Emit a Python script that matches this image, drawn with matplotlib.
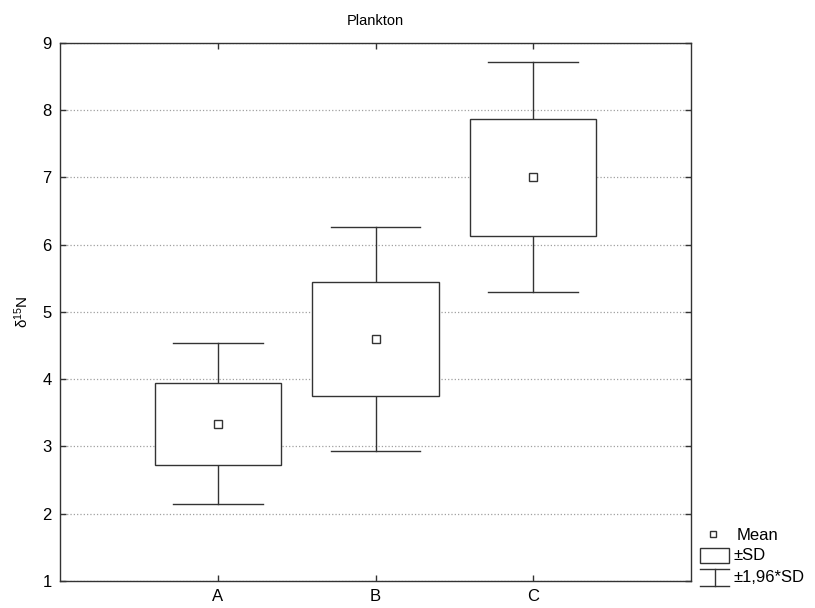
import matplotlib
matplotlib.use('Agg')
import matplotlib.pyplot as plt
from matplotlib.lines import Line2D
from matplotlib.patches import Rectangle
import numpy as np

# Plankton d15N: mean and standard deviation per group
groups = ['A', 'B', 'C']
means = [3.34, 4.60, 7.00]
sds = [0.61, 0.85, 0.873]
ci_factor = 1.96

plt.rcParams['font.family'] = ['Liberation Sans', 'DejaVu Sans']
plt.rcParams['mathtext.default'] = 'regular'

fig = plt.figure(figsize=(8.15, 6.08), dpi=100)
ax = fig.add_axes([60 / 815, 1 - 581 / 608, 631 / 815, 538.3 / 608])

edge = '#333333'
x = np.arange(1, len(groups) + 1)
means = np.array(means)
sds = np.array(sds)

# whiskers (±1.96*SD)
for xi, m, s in zip(x, means, sds):
    lo, hi = m - ci_factor * s, m + ci_factor * s
    ax.plot([xi, xi], [lo, m - s], color=edge, lw=1, zorder=2)
    ax.plot([xi, xi], [m + s, hi], color=edge, lw=1, zorder=2)
    ax.plot([xi - 0.285, xi + 0.285], [lo, lo], color=edge, lw=1, zorder=2)
    ax.plot([xi - 0.285, xi + 0.285], [hi, hi], color=edge, lw=1, zorder=2)

# boxes (±SD)
ax.bar(x, 2 * sds, bottom=means - sds, width=0.8, facecolor='white',
       edgecolor=edge, linewidth=1, zorder=3)

# means
ax.plot(x, means, ls='none', marker='s', ms=6, mfc='white', mec=edge,
        mew=1, zorder=4)

ax.set_xlim(0, 4)
ax.set_ylim(1, 9)
ax.set_xticks(x)
ax.set_xticklabels(groups)
ax.set_yticks(range(1, 10))
ax.tick_params(direction='in', length=4, width=1, top=True, right=True,
               labelsize=12, color=edge, pad=6)
ax.grid(axis='y', ls=':', color='#a0a0a0', lw=0.9)
ax.set_axisbelow(True)
for sp in ax.spines.values():
    sp.set_color(edge)
    sp.set_linewidth(1)

ax.set_title('Plankton', fontsize=10.5, pad=13)
ax.set_ylabel('δ$^{15}$N', fontsize=11, labelpad=8)

# legend drawn at the figure level
def fx(px):
    return px / 815


def fy(py):
    return 1 - py / 608


fig.add_artist(Line2D([fx(713)], [fy(534)], ls='none', marker='s', ms=5,
                      mfc='white', mec=edge, mew=1))
fig.add_artist(Rectangle((fx(700), fy(563.3)), fx(29.3), 15 / 608,
                         facecolor='white', edgecolor=edge, lw=1,
                         transform=fig.transFigure))
fig.add_artist(Line2D([fx(700), fx(729)], [fy(569.3), fy(569.3)], color=edge, lw=1))
fig.add_artist(Line2D([fx(700), fx(729)], [fy(586), fy(586)], color=edge, lw=1))
fig.add_artist(Line2D([fx(714.5), fx(714.5)], [fy(569.3), fy(586)], color=edge, lw=1))
fig.text(fx(737), fy(535), 'Mean', fontsize=12, va='center')
fig.text(fx(733), fy(556), '±SD', fontsize=12, va='center')
fig.text(fx(733), fy(577), '±1,96*SD', fontsize=12, va='center')

fig.savefig('out.png', dpi=100)
